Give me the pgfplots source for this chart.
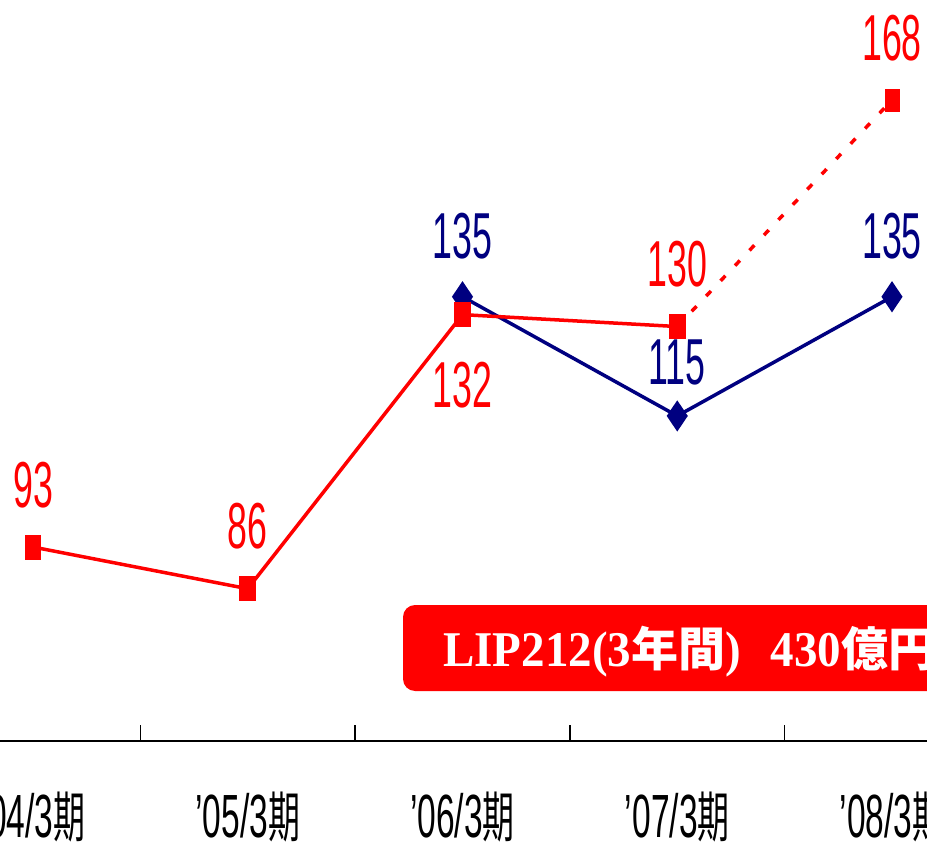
\documentclass[border=0pt]{standalone}
\usepackage{pgfplots}
\pgfplotsset{compat=1.18}
\usepackage{fontspec}
\newfontfamily\numfont{Liberation Sans}[FakeStretch=0.55]
\newfontfamily\cjkfont{Noto Sans CJK JP}[FakeStretch=0.58]
\newfontfamily\boxfont{Liberation Serif}[FakeStretch=0.94]
\newfontfamily\boxcjk{Noto Sans CJK JP Bold}
\definecolor{navyb}{RGB}{0,0,128}
\definecolor{pred}{RGB}{255,0,0}
\newcommand{\ki}{{\fontsize{55pt}{60pt}\cjkfont 期}}
\pgfplotsset{
  vlabel/.style={draw=none, mark=none, point meta=y,
    nodes near coords={\fontsize{65pt}{75pt}\numfont\pgfmathprintnumber[assume math mode=true]{\pgfplotspointmeta}},
    every node near coord/.append style={inner sep=0pt, anchor=base, text=#1}},
}
\begin{document}
\begin{tikzpicture}
\begin{axis}[name=ax, scale only axis, width=927pt, height=741pt,
  xmin=-0.1537, xmax=4.163, ymin=60.45, ymax=184.8,
  axis y line=none, axis x line=bottom,
  x axis line style={-, line width=1.6pt, black},
  xtick={0,1,2,3,4},
  xticklabels={{’04/3\ki},{’05/3\ki},{’06/3\ki},{’07/3\ki},{’08/3\ki}},
  major tick length=0pt,
  minor xtick={0.5,1.5,2.5,3.5},
  minor tick length=16pt, tick align=inside,
  every tick/.style={black, line width=1.3pt},
  xticklabel style={anchor=base, yshift=-97pt, inner sep=0pt, font=\fontsize{61pt}{70pt}\numfont},
  clip=false,
]
% red box annotation
\fill[pred, rounded corners=12pt] (axis cs:1.723,83.27) rectangle (axis cs:4.4,68.84);
\node[anchor=base west, inner sep=0pt, text=white, font=\fontsize{50pt}{60pt}\boxfont\bfseries]
  at (axis cs:1.909,72.87) {LIP212(3{\fontsize{47pt}{55pt}\boxcjk 年間})\hspace{0.6em}430{\fontsize{47pt}{55pt}\boxcjk 億円}};
% blue series
\addplot[navyb, line width=3.5pt, mark=diamond*, mark options={solid, mark size=12.5pt, xscale=0.9}]
  coordinates {(2,135)(3,115)(4,135)};
% red series
\addplot[pred, line width=3.5pt, mark=square*, mark options={solid, mark size=6.7pt, yscale=1.6}]
  coordinates {(0,93)(1,86)(2,132)(3,130)};
\addplot[pred, line width=3.5pt, dash pattern=on 7pt off 14pt, mark=none]
  coordinates {(3,130)(4,168)};
\addplot[pred, only marks, mark=square*, mark options={solid, mark size=6.7pt, yscale=1.6}]
  coordinates {(4,168)};
% value labels
\addplot[vlabel=pred, every node near coord/.append style={yshift=40pt}]
  coordinates {(0,93)(1,86)(3,130)(4,168)};
\addplot[vlabel=pred, every node near coord/.append style={yshift=-93pt}]
  coordinates {(2,132)};
\addplot[vlabel=navyb, every node near coord/.append style={yshift=38pt}]
  coordinates {(2,135)(4,135)};
\addplot[vlabel=navyb, every node near coord/.append style={yshift=31pt}]
  coordinates {(3,115)};
\end{axis}
\pgfresetboundingbox
\path[use as bounding box] ([yshift=-102pt]ax.south west) rectangle (ax.north east);
\end{tikzpicture}
\end{document}
